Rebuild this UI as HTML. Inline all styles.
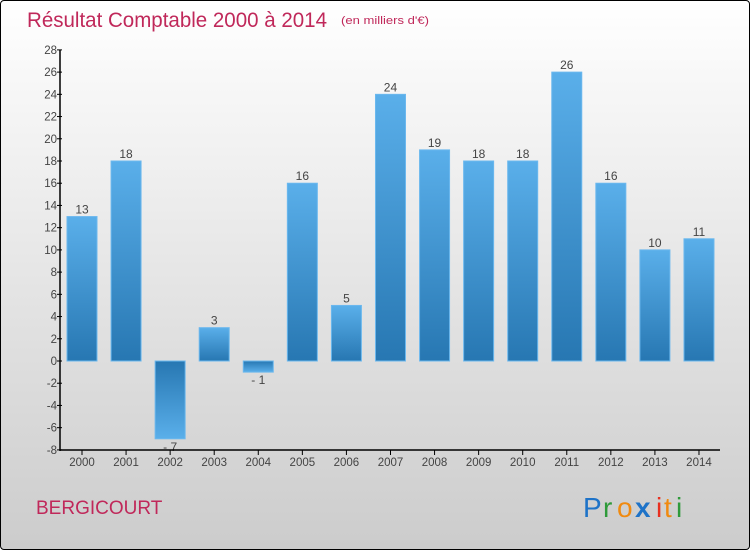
<!DOCTYPE html>
<html><head><meta charset="utf-8"><style>
body{margin:0;width:750px;height:550px;overflow:hidden;font-family:"Liberation Sans",sans-serif}
#c{position:absolute;left:0;top:0;width:748px;height:548px;border:1px solid #000;border-radius:4px;background:linear-gradient(#ffffff,#cccccc)}
</style></head><body>
<div id="c"></div>
<svg id="s" width="750" height="550" style="position:absolute;left:0;top:0">
<defs>
<linearGradient id="gp" x1="0" y1="0" x2="0" y2="1"><stop offset="0" stop-color="#5aafea"/><stop offset="1" stop-color="#2777b2"/></linearGradient>
<linearGradient id="gn" x1="0" y1="0" x2="0" y2="1"><stop offset="0" stop-color="#2777b2"/><stop offset="1" stop-color="#5aafea"/></linearGradient>
</defs>
<text x="27" y="27" font-size="21" fill="#c0285a" textLength="300" lengthAdjust="spacingAndGlyphs">Résultat Comptable 2000 à 2014</text>
<text x="341" y="24" font-size="11" fill="#c0285a" textLength="88" lengthAdjust="spacingAndGlyphs">(en milliers d'€)</text>
<text x="36" y="514" font-size="19" fill="#c0285a">BERGICOURT</text>
<g font-size="28">
<text x="583" y="517" fill="#1e73c8">P</text><text x="603" y="517" fill="#2e9a3a">r</text><text x="617" y="517" fill="#f08a10">o</text><text x="635" y="517" fill="#1e73c8" font-weight="bold">x</text><text x="656" y="517" fill="#e83020">i</text><text x="664" y="517" fill="#f08a10">t</text><text x="676" y="517" fill="#2e9a3a">i</text>
</g>
<g id="g"></g>
</svg>
<script>
const years=["2000","2001","2002","2003","2004","2005","2006","2007","2008","2009","2010","2011","2012","2013","2014"];
const values=[13,18,-7,3,-1,16,5,24,19,18,18,26,16,10,11];
const yTicks=[-8,-6,-4,-2,0,2,4,6,8,10,12,14,16,18,20,22,24,26,28];
const NS="http://www.w3.org/2000/svg",g=document.getElementById('g');
const y=v=>361-v*(400/36), x=i=>82+i*44.07;
function mk(t,a,p){const e=document.createElementNS(NS,t);for(const k in a)e.setAttribute(k,a[k]);(p||g).appendChild(e);return e;}
values.forEach((v,i)=>{
 const r=mk('rect',{x:x(i)-15,y:Math.min(y(v),y(0)),width:30,height:Math.abs(y(v)-y(0)),fill:v>=0?'url(#gp)':'url(#gn)',stroke:'#6bb8ee','stroke-width':1});
 
 
 const t=mk('text',{x:x(i),y:v>=0?y(v)-3:y(v)+12,'text-anchor':'middle','font-size':12,fill:'#444'});
 t.textContent=v<0?'- '+(-v):v;
 
 
 const tk=mk('line',{x1:x(i),x2:x(i),y1:450,y2:455,stroke:'#000'});
 
 
 const l=mk('text',{x:x(i),y:466,'text-anchor':'middle','font-size':11.5,fill:'#444'});
 l.textContent=years[i];
 
 
});
yTicks.forEach(v=>{
 const tk=mk('line',{x1:57,x2:62,y1:y(v),y2:y(v),stroke:'#000'});
 
 
 const l=mk('text',{x:57,y:y(v)+4,'text-anchor':'end','font-size':11.5,fill:'#444'});
 l.textContent=v;
 
 
});
const ya=mk('line',{x1:60,x2:60,y1:50,y2:451,stroke:'#000','stroke-width':1.5});


const xa=mk('line',{x1:60,x2:720,y1:450,y2:450,stroke:'#000','stroke-width':1.5});


</script>
</body></html>
